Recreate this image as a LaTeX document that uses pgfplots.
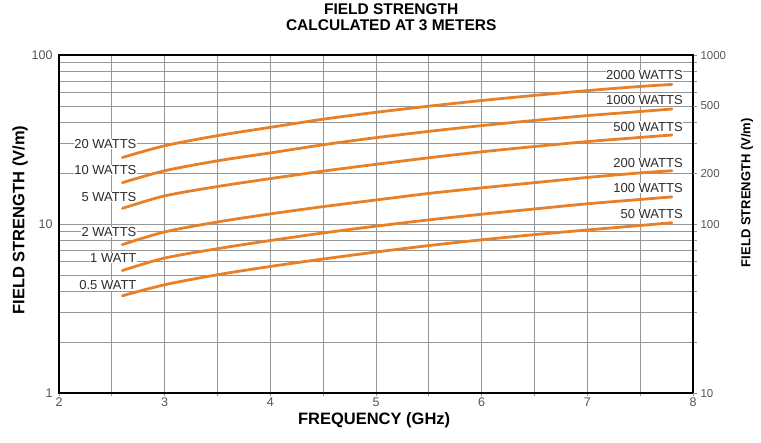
\documentclass[border=0pt]{standalone}
\usepackage{fontspec}
\setmainfont{Liberation Sans}
\usepackage{pgfplots}
\pgfplotsset{compat=1.18}

\definecolor{curve}{RGB}{232,128,40}
\definecolor{gridgray}{RGB}{150,150,150}
\definecolor{ticktext}{RGB}{85,85,85}
\definecolor{labtext}{RGB}{45,45,45}

\tikzset{
  lab/.style={fill=white, inner sep=0.6bp, text=labtext, anchor=east,
    font=\fontsize{13bp}{13bp}\selectfont},
  fs/.style={curve, line width=2.8bp, line cap=round, smooth, mark=none},
}

\begin{document}
\begin{tikzpicture}

\begin{axis}[
  set layers,
  at={(0,0)}, anchor=south west,
  scale only axis,
  width=634bp, height=338bp,
  xmin=2, xmax=8,
  ymode=log, ymin=1, ymax=100,
  xtick={2,3,4,5,6,7,8},
  xticklabels={2,3,4,5,6,7,8},
  minor xtick={2.5,3.5,...,7.5},
  ytick={1,10,100},
  yticklabels={1,10,100},
  minor ytick={2,3,...,9,20,30,...,90},
  xmajorgrids, xminorgrids, ymajorgrids, yminorgrids,
  grid style={gridgray, line width=0.8bp},
  minor grid style={gridgray, line width=0.8bp},
  axis line style={line width=2.6bp, black},
  tick pos=left,
  tick align=outside,
  xtick style={gridgray, line width=0.8bp},
  ytick style={draw=none},
  major tick length=3bp, minor tick length=3bp,
  tick label style={text=ticktext, font=\fontsize{12.5bp}{12.5bp}\selectfont},
  xticklabel style={yshift=1.5bp},
  title={FIELD STRENGTH\\CALCULATED AT 3 METERS},
  title style={at={(axis description cs:0.524,1.095)}, anchor=center, align=center,
    font=\fontsize{15.5bp}{16.5bp}\selectfont\bfseries},
  xlabel={FREQUENCY (GHz)},
  xlabel style={at={(axis description cs:0.497,-0.08)}, anchor=center,
    font=\fontsize{16.5bp}{16.5bp}\selectfont\bfseries},
  ylabel={FIELD STRENGTH (V/m)},
  ylabel style={at={(axis description cs:-0.0615,0.512)}, anchor=center,
    font=\fontsize{16.5bp}{16.5bp}\selectfont\bfseries},
]

% 20 W / 2000 W
\addplot[fs] table {
x y
2.6 24.8
3.0 29.1
3.5 33.4
4.0 37.4
4.5 41.8
5.0 45.9
5.5 49.9
6.0 53.9
6.5 57.8
7.0 61.7
7.5 65.3
7.8 67.1
};
% 10 W / 1000 W
\addplot[fs] table {
x y
2.6 17.6
3.0 20.7
3.5 23.7
4.0 26.4
4.5 29.5
5.0 32.5
5.5 35.4
6.0 38.3
6.5 41.1
7.0 43.9
7.5 46.4
7.8 48.0
};
% 5 W / 500 W
\addplot[fs] table {
x y
2.6 12.4
3.0 14.7
3.5 16.7
4.0 18.6
4.5 20.6
5.0 22.6
5.5 24.7
6.0 26.8
6.5 28.8
7.0 30.8
7.5 32.6
7.8 33.7
};
% 2 W / 200 W
\addplot[fs] table {
x y
2.6 7.57
3.0 9.0
3.5 10.3
4.0 11.5
4.5 12.7
5.0 13.9
5.5 15.2
6.0 16.4
6.5 17.6
7.0 18.9
7.5 20.1
7.8 20.7
};
% 1 W / 100 W
\addplot[fs] table {
x y
2.6 5.32
3.0 6.3
3.5 7.16
4.0 8.0
4.5 8.87
5.0 9.73
5.5 10.6
6.0 11.45
6.5 12.3
7.0 13.2
7.5 14.0
7.8 14.5
};
% 0.5 W / 50 W
\addplot[fs] table {
x y
2.6 3.77
3.0 4.38
3.5 5.02
4.0 5.62
4.5 6.22
5.0 6.84
5.5 7.47
6.0 8.08
6.5 8.67
7.0 9.24
7.5 9.82
7.8 10.2
};

\begin{pgfonlayer}{pre main}
\node[lab] at (axis cs:2.74,29.9) {20 WATTS};
\node[lab] at (axis cs:2.74,20.97) {10 WATTS};
\node[lab] at (axis cs:2.74,14.5) {5 WATTS};
\node[lab] at (axis cs:2.74,8.96) {2 WATTS};
\node[lab] at (axis cs:2.74,6.28) {1 WATT};
\node[lab] at (axis cs:2.74,4.34) {0.5 WATT};
\node[lab] at (axis cs:7.91,76.0) {2000 WATTS};
\node[lab] at (axis cs:7.91,53.9) {1000 WATTS};
\node[lab] at (axis cs:7.91,37.8) {500 WATTS};
\node[lab] at (axis cs:7.91,23.1) {200 WATTS};
\node[lab] at (axis cs:7.91,16.4) {100 WATTS};
\node[lab] at (axis cs:7.91,11.5) {50 WATTS};
\end{pgfonlayer}
\end{axis}

\begin{axis}[
  at={(0,0)}, anchor=south west,
  scale only axis,
  width=634bp, height=338bp,
  xmin=2, xmax=8,
  ymode=log, ymin=10, ymax=1000,
  axis x line=none, axis y line*=right,
  ytick={10,100,1000},
  yticklabels={10,100,1000},
  extra y ticks={200,500},
  extra y tick labels={200,500},
  minor ytick={20,30,...,90,200,300,...,900},
  axis line style={line width=2.6bp, black},
  tick align=outside,
  ytick style={gridgray, line width=0.8bp},
  major tick length=4bp, minor tick length=4bp,
  yticklabel style={text=ticktext, font=\fontsize{11.5bp}{11.5bp}\selectfont},
  ylabel={FIELD STRENGTH (V/m)},
  ylabel style={at={(axis description cs:1.085,0.593)}, anchor=center,
    font=\fontsize{13bp}{13bp}\selectfont\bfseries},
]
\addplot[draw=none] coordinates {(2,10) (8,1000)};
\end{axis}
\path (-59bp,-49bp) rectangle (702bp,388bp);
\end{tikzpicture}
\end{document}
